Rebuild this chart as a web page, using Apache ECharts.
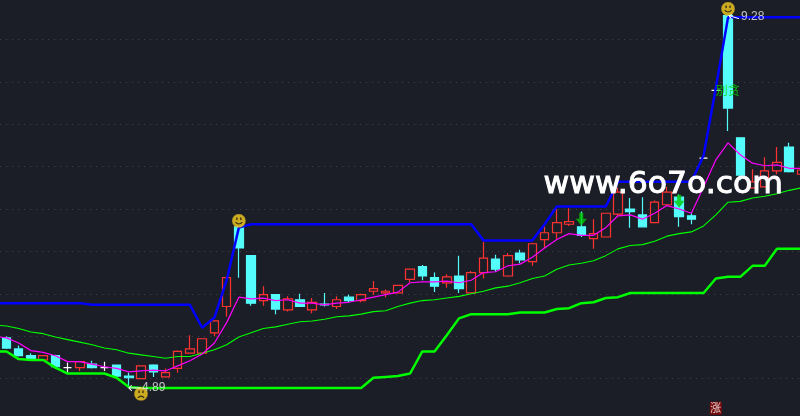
<!DOCTYPE html>
<html>
<head>
<meta charset="utf-8">
<style>
  html, body { margin: 0; padding: 0; background: #1b1e27; }
  #main { width: 800px; height: 416px; }
</style>
<script src="https://cdn.jsdelivr.net/npm/echarts@6/dist/echarts.min.js"></script>
</head>
<body>
<div id="main"></div>
<script>
// K线数据，第一根在画面左侧之外，让指标线能画到左边缘
const open = [5.50, 5.48,5.35,5.27,5.22,5.27,5.13,5.13,5.17,5.13,5.16, 5.03,5.00,5.16,5.02,5.12,5.30,5.30,5.54,5.85,6.79, 6.45,5.92,5.99,5.81,5.93,5.81,5.88,5.85,5.96,5.92, 6.03,6.01,6.01,6.17,6.32,6.19,6.13,6.21,6.01,6.25, 6.41,6.21,6.48,6.38,6.64,6.72,6.82,6.79,6.65,6.67, 6.94,7.00,6.93,6.84,7.05,7.14,6.92,7.60,8.40,9.28, 7.84,7.25,7.26,7.45,7.73,7.41];
const close = [5.52, 5.36,5.27,5.23,5.27,5.14,5.13,5.20,5.13,5.13,5.03, 5.01,5.15,5.08,5.07,5.32,5.35,5.47,5.68,6.19,6.54, 5.89,5.99,5.82,5.94,5.85,5.90,5.87,5.93,5.92,5.99, 6.06,6.03,6.10,6.29,6.21,6.09,6.20,6.06,6.25,6.42, 6.29,6.45,6.40,6.59,6.72,6.84,6.85,6.69,6.71,6.95, 7.20,6.97,6.79,7.08,7.20,6.91,6.88,7.60,8.40,8.19, 7.40,7.32,7.45,7.55,7.44,7.46];
const low = [5.48, 5.35,5.26,5.23,5.21,5.14,5.07,5.09,5.12,5.09,5.02, 4.89,5.00,5.02,5.02,5.07,5.30,5.30,5.50,5.73,6.19, 5.86,5.86,5.76,5.79,5.85,5.77,5.85,5.82,5.90,5.90, 5.99,5.96,6.01,6.13,6.16,6.02,6.07,6.01,6.01,6.18, 6.26,6.20,6.36,6.33,6.54,6.65,6.80,6.67,6.53,6.67, 6.91,6.78,6.79,6.84,7.05,6.79,6.82,7.59,8.39,7.92, 7.34,7.25,7.26,7.41,7.43,7.41];
const high = [5.54, 5.50,5.39,5.30,5.27,5.28,5.19,5.20,5.21,5.20,5.16, 5.07,5.15,5.17,5.12,5.33,5.51,5.47,5.68,6.19,6.79, 6.45,6.09,5.99,5.97,6.00,5.95,6.01,5.97,5.99,6.00, 6.15,6.05,6.10,6.29,6.34,6.25,6.23,6.45,6.27,6.61, 6.46,6.48,6.52,6.60,6.79,7.00,7.01,6.97,6.88,6.95, 7.25,7.13,7.14,7.10,7.26,7.17,6.95,7.61,8.41,9.28, 7.84,7.47,7.61,7.73,7.78,7.52];

// 指标线
const upperLine = [5.89, 5.89,5.89,5.89,5.89,5.89,5.89,5.89,5.87,5.87,5.87, 5.87,5.87,5.87,5.87,5.87,5.87,5.60,5.72,6.16,6.78, 6.82,6.82,6.82,6.82,6.82,6.82,6.82,6.82,6.82,6.82, 6.82,6.82,6.82,6.82,6.82,6.82,6.82,6.82,6.82,6.63, 6.63,6.63,6.63,6.63,6.82,7.03,7.03,7.03,7.03,7.03, 7.32,7.32,7.32,7.32,7.32,7.32,7.32,7.63,8.43,9.26, 9.26,9.26,9.26,9.26,9.26,9.26];
const lowerLine = [5.32, 5.32,5.23,5.22,5.22,5.13,5.06,5.06,5.06,5.06,5.01, 4.90,4.89,4.89,4.89,4.89,4.89,4.89,4.89,4.89,4.89, 4.89,4.89,4.89,4.89,4.89,4.89,4.89,4.89,4.89,4.89, 5.01,5.02,5.03,5.06,5.32,5.32,5.51,5.71,5.76,5.76, 5.76,5.76,5.78,5.78,5.78,5.82,5.83,5.89,5.90,5.95, 5.96,6.01,6.01,6.01,6.01,6.01,6.01,6.01,6.18,6.20, 6.20,6.33,6.33,6.53,6.53,6.53];
const slowLine = [5.63, 5.62,5.59,5.55,5.53,5.49,5.46,5.43,5.40,5.36,5.34, 5.30,5.28,5.26,5.24,5.26,5.26,5.30,5.34,5.40,5.49, 5.54,5.59,5.61,5.64,5.67,5.68,5.70,5.73,5.74,5.76, 5.79,5.80,5.85,5.89,5.92,5.93,5.95,5.97,6.00,6.03, 6.07,6.09,6.13,6.18,6.21,6.29,6.34,6.36,6.39,6.45, 6.53,6.57,6.58,6.62,6.68,6.71,6.73,6.80,6.93,7.08, 7.09,7.13,7.15,7.18,7.22,7.25];
const fastLine = [5.50, 5.48,5.42,5.33,5.31,5.27,5.20,5.20,5.17,5.14,5.12, 5.08,5.09,5.10,5.09,5.15,5.21,5.29,5.42,5.66,5.96, 5.94,5.95,5.92,5.93,5.89,5.89,5.87,5.89,5.90,5.93, 5.96,5.99,6.02,6.13,6.14,6.14,6.15,6.13,6.16,6.25, 6.26,6.33,6.35,6.43,6.54,6.64,6.71,6.69,6.69,6.78, 6.92,6.93,6.88,6.95,7.04,7.00,6.95,7.26,7.58,7.78, 7.64,7.54,7.51,7.52,7.48,7.48];

const categories = open.map((_, i) => i);
const candles = open.map((o, i) => [o, close[i], low[i], high[i]]);

// 标记点 [类目下标, 价格]
const smilePoints = [[20, 6.86], [60, 9.36]];
const sadPoints = [[12, 4.82]];
const arrowPoints = [[48, 6.88], [56, 7.09]];
const lowMark = [12, 4.89];
const highMark = [60, 9.27];
const warnPoint = [59, 8.40];
const riseBadge = [59, 4.65];

const face = (mouth) => 'image://data:image/svg+xml,' + encodeURIComponent(
  '<svg xmlns="http://www.w3.org/2000/svg" width="14" height="14" viewBox="0 0 14 14">' +
  '<circle cx="7" cy="7" r="6.8" fill="#f8d020" stroke="#a8882a" stroke-width="0.4"/>' +
  '<rect x="4.4" y="3.6" width="1.3" height="2.6" fill="#3a2a10"/>' +
  '<rect x="8.3" y="3.6" width="1.3" height="2.6" fill="#3a2a10"/>' +
  '<path d="' + mouth + '" fill="none" stroke="#3a2a10" stroke-width="1.1"/></svg>'
);

const chart = echarts.init(document.getElementById('main'));

const lineSeries = (name, data, color, width) => ({
  name,
  type: 'line',
  data,
  symbol: 'none',
  silent: true,
  z: 3,
  lineStyle: { color, width }
});

const markSeries = (data, extra) => Object.assign({
  type: 'scatter',
  data,
  silent: true,
  z: 6
}, extra);

chart.setOption({
  animation: false,
  backgroundColor: '#1b1e27',
  grid: { left: -11.85, top: -3, width: 819.4, height: 424, outerBoundsMode: 'none' },
  xAxis: {
    type: 'category',
    data: categories,
    boundaryGap: true,
    axisLine: { show: false },
    axisTick: { show: false },
    axisLabel: { show: false },
    splitLine: { show: false }
  },
  yAxis: {
    type: 'value',
    min: 4.5,
    max: 9.5,
    interval: 0.5,
    axisLine: { show: false },
    axisTick: { show: false },
    axisLabel: { show: false },
    splitLine: { lineStyle: { color: '#42454d', width: 1, type: [1, 5] } }
  },
  series: [
    {
      type: 'candlestick',
      data: candles,
      barWidth: 9,
      silent: true,
      itemStyle: {
        color: 'transparent',
        color0: '#54fcfc',
        borderColor: '#ff3232',
        borderColor0: '#54fcfc',
        borderColorDoji: '#ffffff',
        borderWidth: 1.2
      }
    },
    lineSeries('slow', slowLine, '#00ff00', 1.1),
    lineSeries('lower', lowerLine, '#00ff00', 2.5),
    lineSeries('fast', fastLine, '#ff00ff', 1.2),
    lineSeries('upper', upperLine, '#0000ff', 2.5),
    markSeries(smilePoints, { symbol: face('M3.6 8.2 Q7 12 10.4 8.2'), symbolSize: 14 }),
    markSeries(sadPoints, { symbol: face('M3.8 11 Q7 7.6 10.2 11'), symbolSize: 14 }),
    markSeries(arrowPoints, {
      symbol: 'path://M3.5 0H7.5V6H11L5.5 13L0 6H3.5Z',
      symbolSize: [11, 13],
      itemStyle: { color: '#00c800' }
    }),
    markSeries([lowMark], {
      symbolSize: 0,
      label: { show: true, position: 'right', distance: 1, formatter: '4.89', color: '#e8e8e8', fontSize: 12, fontFamily: 'Liberation Sans' }
    }),
    markSeries([highMark], {
      symbolSize: 0,
      label: { show: true, position: 'right', distance: 13, formatter: '9.28', color: '#e8e8e8', fontSize: 12, fontFamily: 'Liberation Sans' }
    }),
    markSeries([warnPoint], {
      symbolSize: 0,
      label: { show: true, position: 'right', distance: 0, formatter: '别贪', color: '#00e000', fontSize: 12, fontFamily: 'Noto Sans CJK SC' }
    }),
    markSeries([riseBadge], {
      symbol: 'rect',
      symbolSize: [12, 13],
      itemStyle: { color: '#8c0808' },
      label: { show: true, position: 'inside', formatter: '涨', color: '#ffffff', fontSize: 11, fontFamily: 'Noto Sans CJK SC' }
    })
  ]
});

// 最高最低价的白色引线，位置跟着坐标轴走
const lowPos = chart.convertToPixel({ seriesIndex: 0 }, [11, 4.89]);
const highPos = chart.convertToPixel({ seriesIndex: 0 }, [60, 9.28]);
const leader = (points) => ({
  type: 'polyline',
  z: 99,
  silent: true,
  shape: { points },
  style: { stroke: '#ffffff', lineWidth: 1, fill: 'none' }
});
chart.setOption({
  graphic: [
    leader([[lowPos[0] + 3, lowPos[1] - 3], [lowPos[0], lowPos[1]], [lowPos[0] + 3, lowPos[1] + 3], [lowPos[0], lowPos[1]], [lowPos[0] + 12, lowPos[1]]]),
    leader([[highPos[0] + 4, highPos[1] - 1], [highPos[0] + 1, highPos[1]], [highPos[0] + 3, highPos[1] + 3], [highPos[0] + 1, highPos[1]], [highPos[0] + 11, highPos[1] + 3]]),
    {
      type: 'text',
      left: 543,
      top: 169,
      scaleX: 1.015,
      z: 100,
      silent: true,
      style: { text: 'www.6o7o.com', fill: '#ffffff', stroke: '#ffffff', lineWidth: 1, fontFamily: 'DejaVu Sans', fontSize: 31 }
    }
  ]
});
</script>
</body>
</html>
